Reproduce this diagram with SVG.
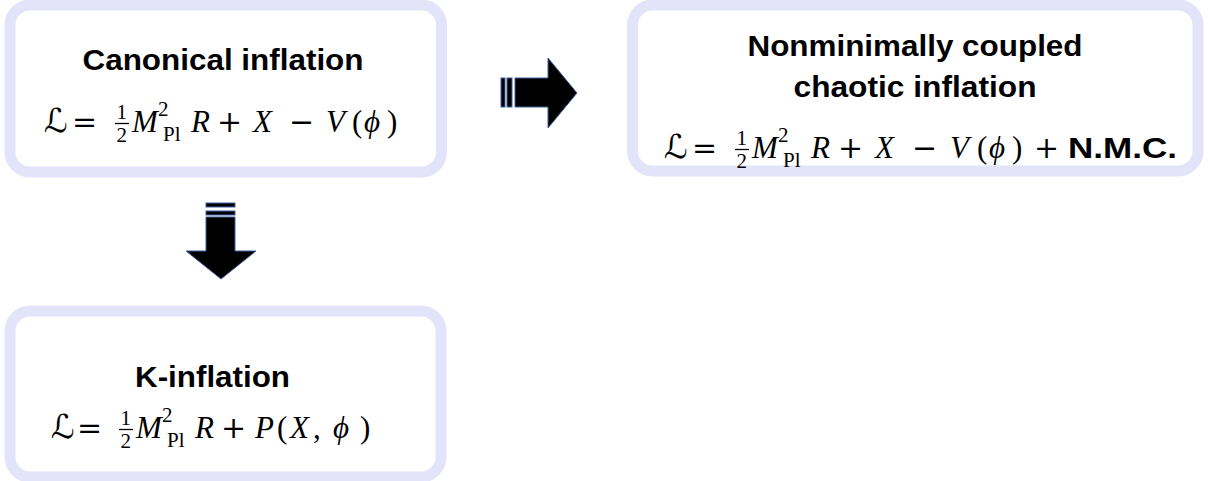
<svg xmlns="http://www.w3.org/2000/svg" width="1208" height="481" viewBox="0 0 1208 481">
<style>
.box{fill:#fff;stroke:#e3e3f9;stroke-width:11}
.t{font-family:"Liberation Sans",Arial,sans-serif;font-weight:bold;font-size:29px;fill:#000}
.m{font-family:"Liberation Serif","Times New Roman",serif;font-size:31px;fill:#000}
.i{font-style:italic}
.o{font-family:"DejaVu Serif",serif;font-size:30px}
.s{font-size:21px}
.c{font-family:"DejaVu Sans",sans-serif;font-style:italic;font-size:33px}
.bar{stroke:#000;stroke-width:1.3}
.arr{fill:#000;stroke:#3d5f9e;stroke-width:1}
</style>
<rect width="1208" height="481" fill="#fff"/>
<g id="canonical">
<rect class="box" x="10" y="5" width="431.5" height="167" rx="20"/>
<text class="t" x="223" y="70" text-anchor="middle" textLength="281" lengthAdjust="spacingAndGlyphs">Canonical inflation</text>
<text class="m">
<tspan class="c" x="44" y="132">ℒ</tspan><tspan class="o" x="72" y="132">=</tspan><tspan class="s" x="116.5" y="119">1</tspan><tspan class="s" x="116.5" y="142">2</tspan><tspan class="i" x="132" y="132">M</tspan><tspan class="s" x="158" y="116">2</tspan><tspan class="s" x="163" y="141">Pl</tspan><tspan class="i" x="191" y="132">R</tspan><tspan class="o" x="217" y="132">+</tspan><tspan class="i" x="253" y="132">X</tspan><tspan class="o" x="289" y="132">−</tspan><tspan class="i" x="326" y="132">V</tspan><tspan x="352" y="132">(</tspan><tspan class="i" x="364" y="132">ϕ</tspan><tspan x="387" y="132">)</tspan>
</text>
<line class="bar" x1="115" y1="123.5" x2="129" y2="123.5"/>
</g>
<g id="nonminimal">
<rect class="box" x="632.5" y="5" width="565.5" height="166" rx="20"/>
<text class="t" x="915" y="56" text-anchor="middle" textLength="335" lengthAdjust="spacingAndGlyphs">Nonminimally coupled</text>
<text class="t" x="915" y="97" text-anchor="middle" textLength="243" lengthAdjust="spacingAndGlyphs">chaotic inflation</text>
<text class="m">
<tspan class="c" x="664" y="158">ℒ</tspan><tspan class="o" x="692" y="158">=</tspan><tspan class="s" x="736.5" y="145">1</tspan><tspan class="s" x="736.5" y="168">2</tspan><tspan class="i" x="752" y="158">M</tspan><tspan class="s" x="778" y="142">2</tspan><tspan class="s" x="783" y="167">Pl</tspan><tspan class="i" x="811" y="158">R</tspan><tspan class="o" x="838" y="158">+</tspan><tspan class="i" x="875" y="158">X</tspan><tspan class="o" x="912" y="158">−</tspan><tspan class="i" x="950" y="158">V</tspan><tspan x="977" y="158">(</tspan><tspan class="i" x="989" y="158">ϕ</tspan><tspan x="1012" y="158">)</tspan><tspan class="o" x="1034" y="158">+</tspan>
</text>
<text class="t" x="1068" y="158" textLength="109" lengthAdjust="spacingAndGlyphs">N.M.C.</text>
<line class="bar" x1="735" y1="149.5" x2="749" y2="149.5"/>
</g>
<g id="kinflation">
<rect class="box" x="10" y="311" width="431" height="166" rx="20"/>
<text class="t" x="212.5" y="387" text-anchor="middle" textLength="155" lengthAdjust="spacingAndGlyphs">K-inflation</text>
<text class="m">
<tspan class="c" x="51" y="438">ℒ</tspan><tspan class="o" x="77" y="438">=</tspan><tspan class="s" x="120.5" y="425">1</tspan><tspan class="s" x="120.5" y="448">2</tspan><tspan class="i" x="136" y="438">M</tspan><tspan class="s" x="162" y="422">2</tspan><tspan class="s" x="167" y="447">Pl</tspan><tspan class="i" x="195" y="438">R</tspan><tspan class="o" x="221" y="438">+</tspan><tspan class="i" x="255" y="438">P</tspan><tspan x="277" y="438">(</tspan><tspan class="i" x="290" y="438">X</tspan><tspan x="313" y="438">,</tspan><tspan class="i" x="333" y="438">ϕ</tspan><tspan x="360" y="438">)</tspan>
</text>
<line class="bar" x1="119" y1="429.5" x2="133" y2="429.5"/>
</g>
<g id="connectors">
<rect class="arr" x="501" y="78" width="4" height="29"/>
<rect class="arr" x="507" y="78" width="5" height="29"/>
<polygon class="arr" points="515,78 548,78 548,58 577,93 548,128 548,107 515,107"/>
<rect class="arr" x="206" y="203" width="29" height="4"/>
<rect class="arr" x="206" y="211" width="29" height="4"/>
<polygon class="arr" points="206,217 235,217 235,251 256,251 221,279 186,251 206,251"/>
</g>
</svg>
